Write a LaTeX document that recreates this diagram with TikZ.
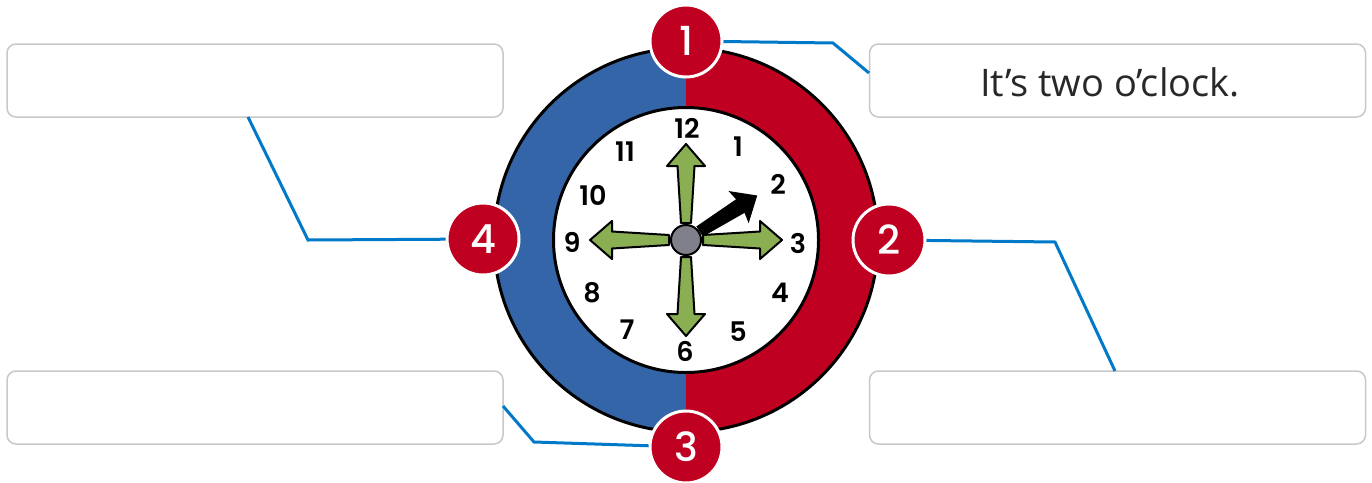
\documentclass[tikz,border=0pt]{standalone}
\usepackage{fontspec}
\setmainfont{Open Sans}
\newfontfamily\numfont{Poppins}[UprightFont={* Medium}]
\newfontfamily\dialfont{Poppins}[UprightFont={* SemiBold}]
\definecolor{ringblue}{RGB}{52,101,168}
\definecolor{ringred}{RGB}{192,0,32}
\definecolor{badgered}{RGB}{192,0,32}
\definecolor{connblue}{RGB}{0,122,200}
\definecolor{boxgrey}{RGB}{200,200,200}
\definecolor{handgreen}{RGB}{138,174,82}
\definecolor{dotgrey}{RGB}{128,128,140}
\definecolor{txtgrey}{RGB}{40,40,40}
\tikzset{
  answerbox/.style={draw=boxgrey, line width=1.5pt, rounded corners=9pt, minimum width=496pt, minimum height=73pt, inner sep=0pt, fill=white},
  badge/.style={circle, fill=badgered, draw=white, line width=3pt, minimum size=72pt, inner sep=0pt, text=white, font=\numfont\fontsize{40}{40}\selectfont},
  conn/.style={draw=connblue, line width=3pt, line join=miter},
  clocknum/.style={inner sep=0pt, font=\dialfont\fontsize{27}{27}\selectfont},
  greenhand/.style={fill=handgreen, draw=black, line width=2pt, line join=round},
}
\begin{document}
\begin{tikzpicture}[x=1pt,y=-1pt]
\useasboundingbox (0,0) rectangle (1372,482);
% answer boxes
\node[answerbox] (tl) at (255,80.5) {};
\node[answerbox] (tr) at (1117.5,80.5) {};
\node[answerbox] (bl) at (255,407.5) {};
\node[answerbox] (br) at (1117.5,407.5) {};
\node[inner sep=0pt, text=txtgrey, font=\fontsize{38}{38}\selectfont] (txt) at (1110,82) {It’s two o’clock.};
% ring
\coordinate (cc) at (686,240);
\begin{scope}
  \clip (0,0) rectangle (686,482);
  \fill[ringblue] (cc) circle[radius=192pt];
\end{scope}
\begin{scope}
  \clip (686,0) rectangle (1372,482);
  \fill[ringred] (cc) circle[radius=192pt];
\end{scope}
\draw[line width=3pt] (cc) circle[radius=192pt];
\draw[line width=3pt, fill=white] (cc) circle[radius=132.5pt];
% numbers
\foreach \n/\px/\py in {12/687/128,1/738/147,2/778/184,3/798/243,4/780/293,5/738/332,6/685/351,7/627/330,8/592/293,9/572/242,10/593/195,11/625/152}
  \node[clocknum] (n\n) at (\px,\py) {\n};
% green arrows
\foreach \a in {0,90,180,270}{
  \begin{scope}[shift={(cc)}, rotate=\a]
    \draw[greenhand] (17,-5) -- (74,-8.5) -- (74,-19) -- (96,0) -- (74,19) -- (74,8.5) -- (17,5) -- cycle;
  \end{scope}
}
% hour hand
\begin{scope}[shift={(cc)}, rotate=32]
  \fill[black] (16,-6) -- (64,-8) -- (62,-19) -- (84,0) -- (62,19) -- (64,8) -- (16,6) -- cycle;
\end{scope}
\draw[fill=dotgrey, line width=2pt] (cc) circle[radius=15pt];
% connectors
\coordinate (c1a) at (833,43);
\coordinate (c1b) at (869,73);
\coordinate (c2a) at (1055,242);
\coordinate (c2b) at (1115,371);
\coordinate (c3a) at (534,442);
\coordinate (c3b) at (503,406);
\coordinate (c4a) at (308,240);
\coordinate (c4b) at (248,117);
\coordinate (b1c) at (686,41);
\coordinate (b2c) at (889,240);
\coordinate (b3c) at (686,447);
\coordinate (b4c) at (483,239);
\draw[conn] (b1c) -- (c1a) -- (c1b);
\draw[conn] (b2c) -- (c2a) -- (c2b);
\draw[conn] (b3c) -- (c3a) -- (c3b);
\draw[conn] (b4c) -- (c4a) -- (c4b);
\node[badge] (b1) at (b1c) {1};
\node[badge] (b2) at (b2c) {2};
\node[badge] (b3) at (b3c) {3};
\node[badge] (b4) at (b4c) {4};
\end{tikzpicture}
\end{document}
